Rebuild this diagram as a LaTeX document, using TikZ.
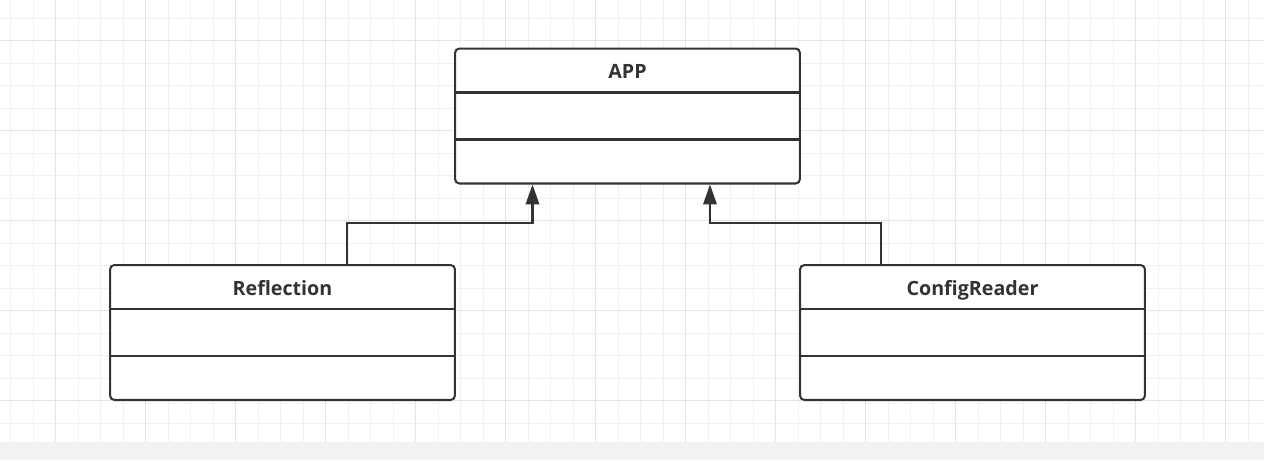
\documentclass[tikz,border=0pt]{standalone}
\usepackage{fontspec}
\setmainfont{Open Sans}
\usetikzlibrary{arrows.meta, calc, positioning}
\definecolor{ink}{HTML}{333333}
\definecolor{gridlo}{HTML}{F0F0F0}
\definecolor{gridhi}{HTML}{E4E4E4}
\definecolor{strip}{HTML}{F2F2F2}
\tikzset{
  % a class box (three compartments)
  cls/.style   = {draw=ink, line width=1.15pt, rounded corners=2.5pt, fill=white,
                  minimum width=6.9cm, minimum height=2.7cm, inner sep=0pt},
  % the compartment rules
  sep/.style   = {draw=ink, line width=1.15pt},
  % the class name
  ttl/.style   = {font=\fontsize{11.2}{13}\selectfont\bfseries, text=ink,
                  inner sep=0pt, anchor=base},
  % an inheritance edge
  inh/.style   = {draw=ink, line width=1.15pt,
                  -{Triangle[length=4mm,width=2.7mm]}},
  % the paper
  minor/.style = {gridlo, line width=0.7pt},
  major/.style = {gridhi, line width=0.7pt},
}
% a class box with its name and two empty compartments
\newcommand{\classbox}[4]{%
  \node[cls] (#1) at (#2,#3) {};
  \draw[sep] ([yshift=-0.9cm]#1.north west) -- ([yshift=-0.9cm]#1.north east);
  \draw[sep] ([yshift=0.9cm]#1.south west) -- ([yshift=0.9cm]#1.south east);
  \node[ttl] at ([yshift=-0.63cm]#1.north) {#4};
}

\begin{document}
\begin{tikzpicture}[x=0.02cm, y=-0.02cm]
  \useasboundingbox (0,0) rectangle (1264,460);
  \fill[white] (0,0) rectangle (1264,460);
  % paper grid
  \foreach \k in {0,...,55} {
    \pgfmathsetmacro\gx{10.7+22.5*\k}
    \pgfmathtruncatemacro\m{mod(\k,4)}
    \ifnum\m=2 \draw[major] (\gx,0) -- (\gx,441.5);
    \else \draw[minor] (\gx,0) -- (\gx,441.5); \fi
  }
  \foreach \k in {0,...,18} {
    \pgfmathsetmacro\gy{18.2+22.5*\k}
    \pgfmathtruncatemacro\m{mod(\k,4)}
    \ifnum\m=1 \draw[major] (0,\gy) -- (1264,\gy);
    \else \draw[minor] (0,\gy) -- (1264,\gy); \fi
  }
  \fill[strip] (0,441.5) rectangle (1264,460);

  \classbox{app}{627.5}{116}{APP}
  \classbox{refl}{282.5}{332.5}{Reflection}
  \classbox{cfg}{972.5}{332.5}{ConfigReader}

  % generalisations
  \coordinate (appL) at ($(app.south)+(-95,0)$);
  \coordinate (appR) at ($(app.south)+(82.5,0)$);
  \draw[inh] ($(refl.north)+(64.5,0)$) -- ++(0,-40.7) -| (appL);
  \draw[inh] ($(cfg.north)+(-91.5,0)$) -- ++(0,-40.7) -| (appR);
\end{tikzpicture}
\end{document}
